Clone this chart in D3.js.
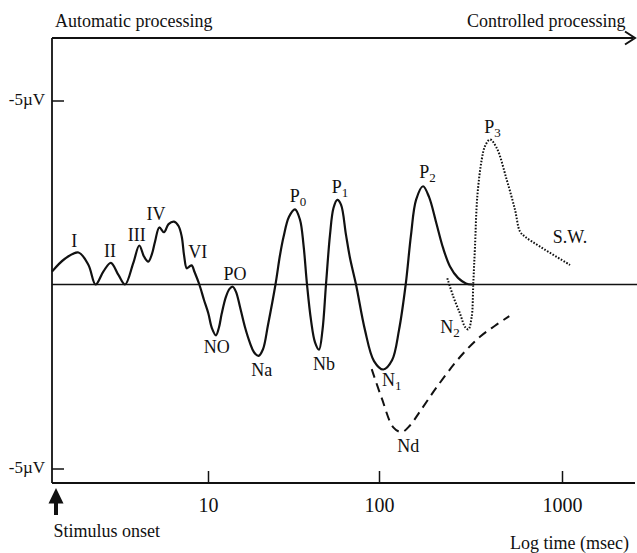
<!DOCTYPE html>
<html><head><meta charset="utf-8">
<script src="https://cdn.jsdelivr.net/npm/d3@7"></script>
<style>body{margin:0;background:#fff}svg{display:block}</style>
</head><body><svg id="c" width="637" height="553"></svg>
<script>
// ---- data ----
const xTickValues = [10, 100, 1000];
const xTickLabels = ["10", "100", "1000"];
const yTickValues = [-5, 5];
const yTickLabels = ["-5µV", "-5µV"];

// solid ERP waveform (time in ms, amplitude in µV, negative up)
const solidTime = [1.20,1.43,1.72,1.97,2.17,2.41,2.67,2.96,3.24,3.62,3.93,4.19,4.44,4.67,4.87,5.16,5.50,5.85,6.30,6.70,7.00,7.22,7.49,7.73,8.01,8.33,8.89,9.47,10.04,10.55,11.14,11.60,12.03,12.74,13.36,13.95,14.58,15.39,16.46,17.61,18.58,19.74,20.97,22.43,24.81,26.37,27.64,29.77,32.28,34.51,36.18,37.93,40.03,42.25,44.59,46.72,48.98,51.69,54.18,57.03,59.95,64.12,67.67,73.38,82.80,93.49,105.6,117.8,128.6,139.9,149.6,159.4,174.0,187.6,204.9,223.7,244.3,270.2,298.8,322.3];
const solidAmp = [-0.35,-0.70,-0.87,-0.53,0,-0.35,-0.59,-0.26,0,-0.58,-1.06,-0.76,-0.62,-0.83,-1.17,-1.55,-1.42,-1.64,-1.71,-1.59,-1.30,-0.80,-0.44,-0.48,-0.52,-0.34,0,0.42,0.78,1.19,1.38,1.16,0.79,0.33,0.12,0.06,0.20,0.61,1.16,1.59,1.84,1.94,1.76,1.10,0,-0.80,-1.29,-1.84,-2.04,-1.76,-1.08,0,0.97,1.57,1.77,1.24,0,-1.35,-2.08,-2.30,-2.17,-1.35,-0.72,0,1.24,2.08,2.31,2.06,1.24,0,-1.35,-2.30,-2.67,-2.38,-1.70,-1.00,-0.49,-0.18,-0.03,0];

// dashed Nd wave
const ndTime = [90.65,103.5,119.7,133.1,147.7,167.5,206.7,277.1,356.3,430.5,515.2];
const ndAmp = [2.30,3.09,3.88,4.01,3.83,3.45,2.79,1.97,1.42,1.12,0.86];

// dotted N2 / P3 / slow wave
const p3Time = [236.2,254.7,277.1,295.1,307.6,321.0,327.5,334.6,344.5,364.1,379.6,404.2,439.8,498.6,553.6,589.4,627.9,758.4,1106];
const p3Amp = [-0.17,0.33,0.79,1.15,1.22,0.88,-0.03,-1.03,-2.39,-3.39,-3.76,-3.94,-3.71,-2.85,-2.03,-1.44,-1.30,-1.03,-0.53];

// component labels
const peakNames = ["I","II","III","IV","VI","PO","NO","Na","P","Nb","P","N","Nd","P","N","P","S.W."];
const peakSubs  = ["","","","","","","","","0","","1","1","","2","2","3",""];
const peakTime  = [1.625,2.64,3.795,4.93,8.70,14.38,11.24,20.61,33.60,47.70,59.14,117.3,144.6,184.1,244.3,417.1,1106];
const peakAmp   = [-1.03,-0.76,-1.17,-1.74,-0.73,-0.12,1.87,2.49,-2.25,2.32,-2.48,2.76,4.54,-2.89,1.33,-4.11,-1.14];

// ---- layout ----
const FONT = "'Liberation Serif','Times New Roman',Times,serif";
const INK = "#111";
const left = 52, right = 635, topY = 38, botY = 483;

const svg = d3.select("#c");
const x = d3.scaleLog().domain([1.2, 10, 100, 1000, 2500]).range([52, 208, 379, 562, 635]);
const y = d3.scaleLinear().domain([-5, 5]).range([100.5, 468.5]);

// frame lines
svg.append("line").attr("x1", left).attr("x2", left).attr("y1", topY).attr("y2", botY)
  .attr("stroke", INK).attr("stroke-width", 1.8);
svg.append("line").attr("x1", left).attr("x2", 633).attr("y1", topY).attr("y2", topY)
  .attr("stroke", INK).attr("stroke-width", 1.8);
svg.append("path").attr("d", `M625,31.5L635,38L625,44.5`).attr("fill", "none")
  .attr("stroke", INK).attr("stroke-width", 2);
svg.append("line").attr("x1", left).attr("x2", right).attr("y1", botY).attr("y2", botY)
  .attr("stroke", INK).attr("stroke-width", 1.8);

// zero line
svg.append("line").attr("x1", left).attr("x2", 637).attr("y1", y(0)).attr("y2", y(0))
  .attr("stroke", INK).attr("stroke-width", 1.5);

// x axis
const gx = svg.append("g").attr("transform", `translate(0,${botY})`)
  .call(d3.axisBottom(x).tickValues(xTickValues).tickFormat((d, i) => xTickLabels[i])
    .tickSizeInner(-12).tickSizeOuter(0).tickPadding(14.5));
gx.select(".domain").remove();
gx.selectAll("line").attr("stroke", INK).attr("stroke-width", 1.5);
gx.selectAll("text").attr("font-family", FONT).attr("font-size", 20).attr("fill", INK);

// y axis
const gy = svg.append("g").attr("transform", `translate(${left},0)`)
  .call(d3.axisLeft(y).tickValues(yTickValues).tickFormat((d, i) => yTickLabels[i])
    .tickSizeInner(-12).tickSizeOuter(0).tickPadding(7));
gy.select(".domain").remove();
gy.selectAll("line").attr("stroke", INK).attr("stroke-width", 1.5);
gy.selectAll("text").attr("font-family", FONT).attr("font-size", 17).attr("fill", INK).attr("dy", "0.22em");

// curves
const line = d3.line().x(d => x(d[0])).y(d => y(d[1])).curve(d3.curveCatmullRom.alpha(0.5));
svg.append("path").datum(d3.zip(solidTime, solidAmp)).attr("d", line)
  .attr("fill", "none").attr("stroke", INK).attr("stroke-width", 2.2).attr("stroke-linejoin", "round");
svg.append("path").datum(d3.zip(ndTime, ndAmp)).attr("d", line)
  .attr("fill", "none").attr("stroke", INK).attr("stroke-width", 2).attr("stroke-dasharray", "9,6");
svg.append("path").datum(d3.zip(p3Time, p3Amp)).attr("d", line)
  .attr("fill", "none").attr("stroke", INK).attr("stroke-width", 2).attr("stroke-dasharray", "1.6,1.6");

// component labels
peakNames.forEach((n, i) => {
  const t = svg.append("text").attr("x", x(peakTime[i])).attr("y", y(peakAmp[i]))
    .attr("text-anchor", "middle").attr("font-family", FONT).attr("font-size", 18).attr("fill", INK);
  t.append("tspan").text(n);
  if (peakSubs[i]) t.append("tspan").attr("font-size", 13).attr("dy", 4).text(peakSubs[i]);
});

// titles
const txt = (s, xx, yy, anchor) => svg.append("text").attr("x", xx).attr("y", yy)
  .attr("text-anchor", anchor).attr("font-family", FONT).attr("font-size", 18).attr("fill", INK).text(s);
txt("Automatic processing", 55, 27, "start");
txt("Controlled processing", 625.5, 27, "end");
txt("Stimulus onset", 53.5, 537, "start");
txt("Log time (msec)", 629, 548.5, "end");

// stimulus onset arrow
svg.append("path").attr("d", "M56,488L63.5,503.5L58,503.5L58,515L54,515L54,503.5L48.5,503.5Z").attr("fill", INK);
</script></body></html>
